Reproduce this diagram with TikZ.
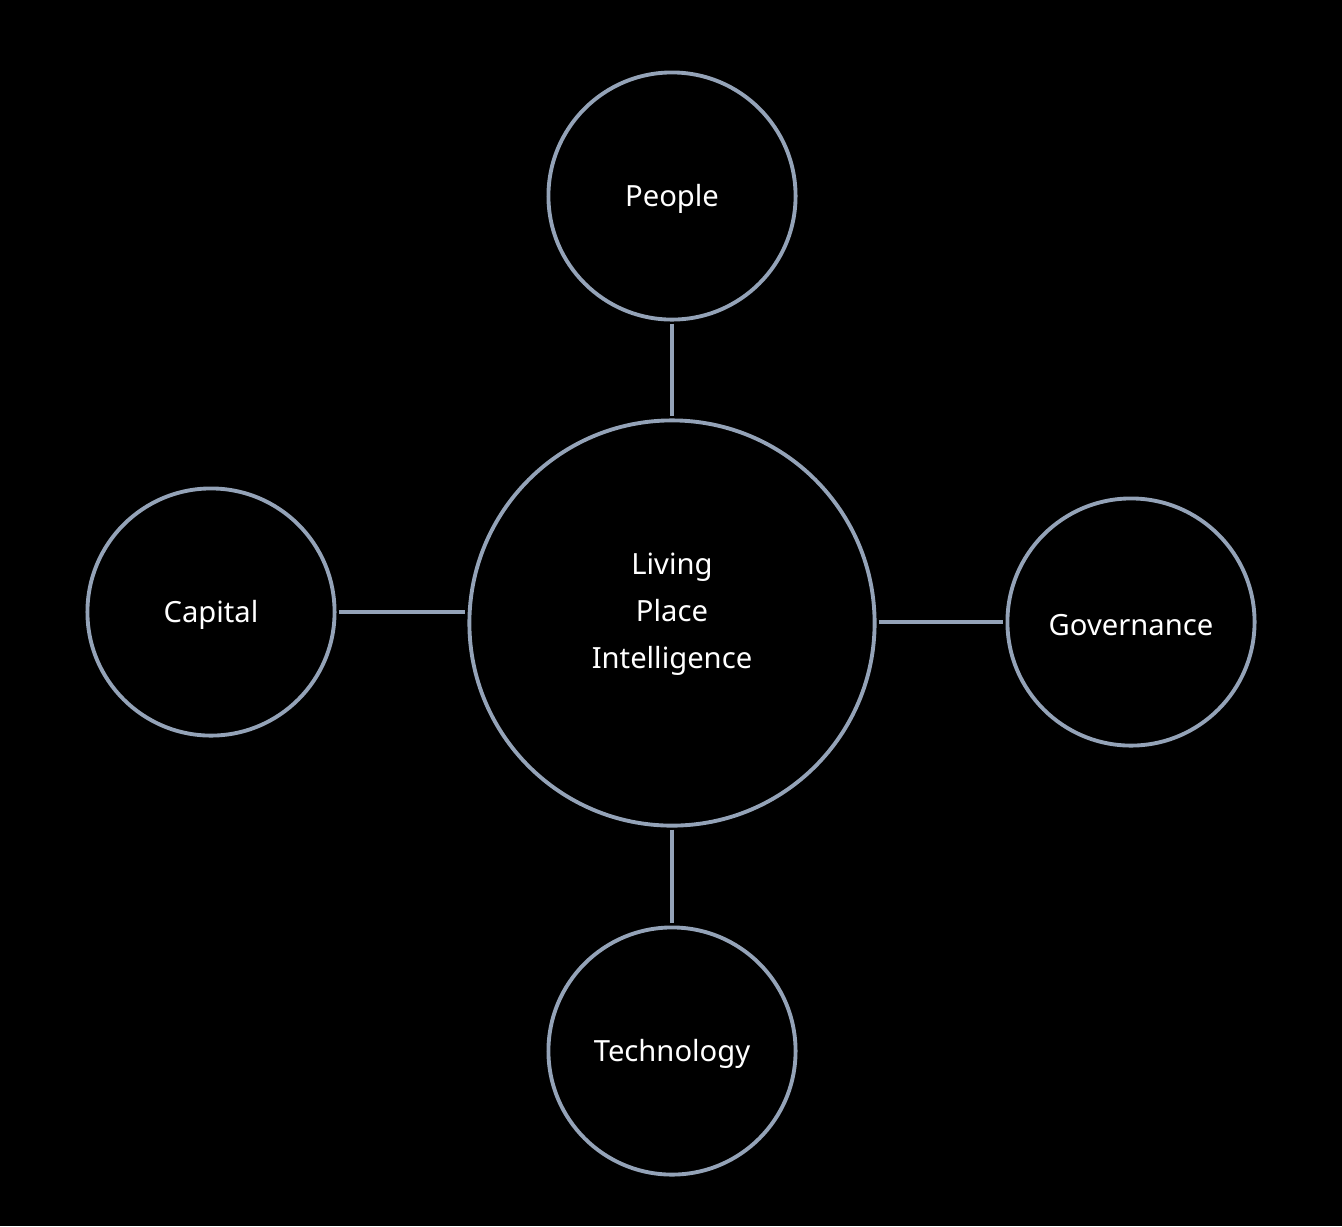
\documentclass[tikz,border=0pt]{standalone}
\usepackage{fontspec}
\setmainfont{Noto Sans}
\definecolor{ringgray}{HTML}{94A3B8}
\tikzset{
  ring/.style={circle,draw=ringgray,line width=1.1pt,inner sep=0pt,outer sep=0pt},
  hub/.style={ring,minimum size=4.05cm},
  spoke/.style={ring,minimum size=2.47cm},
  tag/.style={text=white,font=\fontsize{8.3}{13.4}\selectfont,align=center},
  link/.style={draw=ringgray,line width=1.2pt,shorten <=0.04cm,shorten >=0.04cm}
}
\begin{document}
\begin{tikzpicture}[x=0.01cm,y=-0.01cm]
\fill[black] (0,0) rectangle (1342,1226);
\useasboundingbox (0,0) rectangle (1342,1226);
\node[hub,label={[tag,yshift=0.09cm]center:Living\\Place\\Intelligence}] (lpi) at (672,623) {};
\node[spoke,label={[tag,yshift=-0.03cm]center:People}]     (ppl)  at (672,196)  {};
\node[spoke,label={[tag,yshift=-0.03cm]center:Capital}]    (cap)  at (211,612)  {};
\node[spoke,label={[tag,yshift=-0.03cm]center:Governance}] (gov)  at (1131,622) {};
\node[spoke,label={[tag,yshift=-0.03cm]center:Technology}] (tech) at (672,1051) {};
% spokes
\draw[link] (ppl.south) -- (lpi.north);
\draw[link] (cap.east) -- (cap.east -| lpi.west);
\draw[link] (gov.west -| lpi.east) -- (gov.west);
\draw[link] (lpi.south) -- (tech.north);
\end{tikzpicture}
\end{document}
